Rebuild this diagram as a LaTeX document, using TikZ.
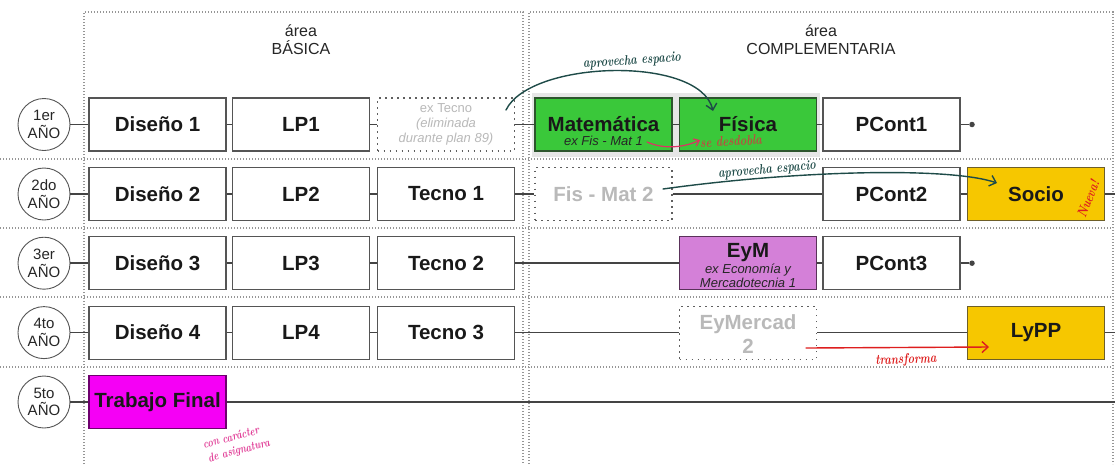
\documentclass[tikz,border=0pt]{standalone}
\usepackage{fontspec}
\setsansfont{Liberation Sans}
\usetikzlibrary{arrows.meta,calc}

\definecolor{linegray}{RGB}{68,68,68}
\definecolor{boxedge}{RGB}{85,85,85}
\definecolor{dotgray}{RGB}{150,150,150}
\definecolor{ghosttext}{RGB}{185,185,185}
\definecolor{ghostedge}{RGB}{95,95,95}
\definecolor{matgreen}{RGB}{58,200,58}
\definecolor{greenedge}{RGB}{45,85,45}
\definecolor{goldfill}{RGB}{246,199,0}
\definecolor{goldedge}{RGB}{110,95,40}
\definecolor{orchidfill}{RGB}{212,128,216}
\definecolor{orchidedge}{RGB}{90,50,90}
\definecolor{magfill}{RGB}{245,0,245}
\definecolor{magedge}{RGB}{110,0,110}
\definecolor{shadowgray}{RGB}{230,230,230}
\definecolor{inkteal}{RGB}{30,75,72}
\definecolor{inkred}{RGB}{222,30,30}
\definecolor{inkpink}{RGB}{222,50,100}
\definecolor{inkbrown}{RGB}{190,75,65}
\definecolor{inkmagenta}{RGB}{225,60,150}

% narrow pen-like lettering for the notes
\newcommand\handw[1]{\scalebox{0.78}[1]{#1}}

\tikzset{
  yearnode/.style={circle, draw=boxedge, line width=0.9pt, minimum size=52pt,
    inner sep=0pt, align=center, fill=white, text=black!85,
    font=\sffamily\fontsize{15}{17.5}\selectfont},
  course/.style={rectangle, draw=boxedge, line width=1.2pt, minimum width=137pt,
    minimum height=53pt, inner sep=0pt, fill=white, text=black!90,
    font=\sffamily\bfseries\fontsize{20.5}{23}\selectfont},
  ghostbox/.style={course, draw=ghostedge, dash pattern=on 1.6pt off 4.4pt,
    text=ghosttext},
  greenbox/.style={course, fill=matgreen, draw=greenedge},
  goldbox/.style={course, fill=goldfill, draw=goldedge},
  orchidbox/.style={course, fill=orchidfill, draw=orchidedge},
  magbox/.style={course, fill=magfill, draw=magedge},
  boxtitle/.style={inner sep=0pt, text=black!90,
    font=\sffamily\bfseries\fontsize{20.5}{23}\selectfont},
  boxsub/.style={inner sep=0pt, text=black!85,
    font=\sffamily\itshape\fontsize{13}{15}\selectfont},
  heading/.style={align=center, inner sep=0pt, text=black!85,
    font=\sffamily\fontsize{16}{18}\selectfont},
  conn/.style={draw=linegray, line width=1.5pt},
  enddot/.style={circle, fill=linegray, inner sep=0pt, minimum size=5.5pt},
  arealine/.style={draw=dotgray, line width=1.2pt, dash pattern=on 1.2pt off 1.8pt},
  handtext/.style={inner sep=0pt, font=\rmfamily\bfseries\itshape\fontsize{14}{15}\selectfont},
  handarrow/.style={line width=1.4pt, line cap=round,
    -{Straight Barb[length=6pt,width=11pt,line width=1.4pt]}},
}

\begin{document}
\begin{tikzpicture}[x=1pt,y=-1pt]
\useasboundingbox (0,0) rectangle (1115,464);
\fill[white] (0,0) rectangle (1115,464);

% area frames and row separators
\draw[arealine] (84,464) -- (84,12) -- (523,12) -- (523,464);
\draw[arealine] (529,464) -- (529,12) -- (1113,12) -- (1113,464);
\foreach \yy in {159,228,297,367}
  \draw[arealine] (0,\yy) -- (1113,\yy);

\node[heading] (hbas) at (301,40) {área\\BÁSICA};
\node[heading] (hcom) at (821,40) {área\\COMPLEMENTARIA};

% light backdrop behind the split mathematics/physics pair
\fill[shadowgray] (532,93) rectangle (820,157);

% ---------- year 1 ----------
\node[yearnode] (y1) at (44,124.5) {1er\\AÑO};
\node[course] (dis1) at (157.5,124.5) {Diseño 1};
\node[course] (lp1) at (301,124.5) {LP1};
\node[ghostbox, align=center, font=\sffamily\fontsize{13}{15}\selectfont] (extec) at (446,124.5)
  {ex Tecno\\\textit{(eliminada}\\\textit{durante plan 89)}};
\node[greenbox] (mat) at (603.5,124.5) {};
\node[boxtitle] (mattit) at (603.5,124.5) {Matemática};
\node[boxsub, anchor=base] (matsub) at (603.5,145) {ex Fis - Mat 1};
\node[greenbox] (fis) at (748,124.5) {Física};
\node[course] (pc1) at (891.5,124.5) {PCont1};
\node[enddot] (d1) at (972,124.5) {};
\draw[conn] (y1) -- (dis1);
\draw[conn] (dis1) -- (lp1);
\draw[conn] (lp1) -- (extec);
\draw[conn] (extec) -- (mat);
\draw[conn] (mat) -- (fis);
\draw[conn] (fis) -- (pc1);
\draw[conn] (pc1) -- (d1);

% ---------- year 2 ----------
\node[yearnode] (y2) at (44,194) {2do\\AÑO};
\node[course] (dis2) at (157.5,194) {Diseño 2};
\node[course] (lp2) at (301,194) {LP2};
\node[course] (tec1) at (446,194) {Tecno 1};
\node[ghostbox] (fm2) at (603.5,194) {Fis - Mat 2};
\node[course] (pc2) at (891.5,194) {PCont2};
\node[goldbox] (soc) at (1036,194) {Socio};
\coordinate (r2end) at (1115,194);
\draw[conn] (y2) -- (dis2);
\draw[conn] (dis2) -- (lp2);
\draw[conn] (lp2) -- (tec1);
\draw[conn] (tec1) -- (fm2);
\draw[conn] (fm2) -- (pc2);
\draw[conn] (pc2) -- (soc);
\draw[conn] (soc) -- (r2end);

% ---------- year 3 ----------
\node[yearnode] (y3) at (44,263.2) {3er\\AÑO};
\node[course] (dis3) at (157.5,263.2) {Diseño 3};
\node[course] (lp3) at (301,263.2) {LP3};
\node[course] (tec2) at (446,263.2) {Tecno 2};
\node[orchidbox] (eym) at (748,263.2) {};
\node[boxtitle, anchor=base] (eymtit) at (748,257) {EyM};
\node[boxsub, anchor=base] (eymsub1) at (748,273) {ex Economía y};
\node[boxsub, anchor=base] (eymsub2) at (748,287) {Mercadotecnia 1};
\node[course] (pc3) at (891.5,263.2) {PCont3};
\node[enddot] (d3) at (972,263.2) {};
\draw[conn] (y3) -- (dis3);
\draw[conn] (dis3) -- (lp3);
\draw[conn] (lp3) -- (tec2);
\draw[conn] (tec2) -- (eym);
\draw[conn] (eym) -- (pc3);
\draw[conn] (pc3) -- (d3);

% ---------- year 4 ----------
\node[yearnode] (y4) at (44,332.6) {4to\\AÑO};
\node[course] (dis4) at (157.5,332.6) {Diseño 4};
\node[course] (lp4) at (301,332.6) {LP4};
\node[course] (tec3) at (446,332.6) {Tecno 3};
\node[ghostbox, align=center] (eym2) at (748,332.6) {};
\node[boxtitle, anchor=base, text=ghosttext] (eym2a) at (748,329) {EyMercad};
\node[boxtitle, anchor=base, text=ghosttext] (eym2b) at (748,353) {2};
\node[goldbox] (lypp) at (1036,332.6) {LyPP};
\coordinate (r4end) at (1115,332.6);
\draw[conn] (y4) -- (dis4);
\draw[conn] (dis4) -- (lp4);
\draw[conn] (lp4) -- (tec3);
\draw[conn] (tec3) -- (eym2);
\draw[conn] (eym2) -- (lypp);
\draw[conn] (lypp) -- (r4end);

% ---------- year 5 ----------
\node[yearnode] (y5) at (44,402) {5to\\AÑO};
\node[magbox] (tf) at (157.5,402) {Trabajo Final};
\coordinate (r5end) at (1115,402);
\draw[conn] (y5) -- (tf);
\draw[conn] (tf) -- (r5end);

% ---------- hand-written notes ----------
\coordinate (a1s) at (506,110);
\coordinate (a1e) at (713,111);
\draw[inkteal, handarrow] (a1s) .. controls (530,60) and (700,55) .. (a1e);
\node[handtext, text=inkteal, rotate=4] (n1) at (632,61) {\handw{aprovecha espacio}};

\coordinate (a2s) at (663,189);
\coordinate (a2e) at (997,183);
\draw[inkteal, handarrow] (a2s) .. controls (800,170) and (950,167) .. (a2e);
\node[handtext, text=inkteal, rotate=5] (n2) at (767,170) {\handw{aprovecha espacio}};

\coordinate (a3s) at (647,142);
\coordinate (a3e) at (700,140);
\draw[inkpink, line width=1.2pt, line cap=round,
  -{Straight Barb[length=5pt,width=8pt,line width=1.2pt]}]
  (a3s) .. controls (665,150) and (685,147) .. (a3e);
\node[handtext, text=inkbrown, rotate=3] (n3) at (731,141) {\handw{se desdobla}};

\coordinate (a4s) at (806,348);
\coordinate (a4e) at (989,347);
\draw[inkred, handarrow] (a4s) -- (a4e);
\node[handtext, text=inkred, rotate=2] (n4) at (906,360) {\handw{transforma}};

\node[handtext, text=inkred, rotate=68] (n5) at (1088,199) {\handw{Nueva!}};

\node[handtext, text=inkmagenta, rotate=15,
  font=\rmfamily\bfseries\itshape\fontsize{12}{13}\selectfont] (n6a) at (231,437) {\handw{con carácter}};
\node[handtext, text=inkmagenta, rotate=15,
  font=\rmfamily\bfseries\itshape\fontsize{12}{13}\selectfont] (n6b) at (239,451) {\handw{de asignatura}};
\end{tikzpicture}
\end{document}
